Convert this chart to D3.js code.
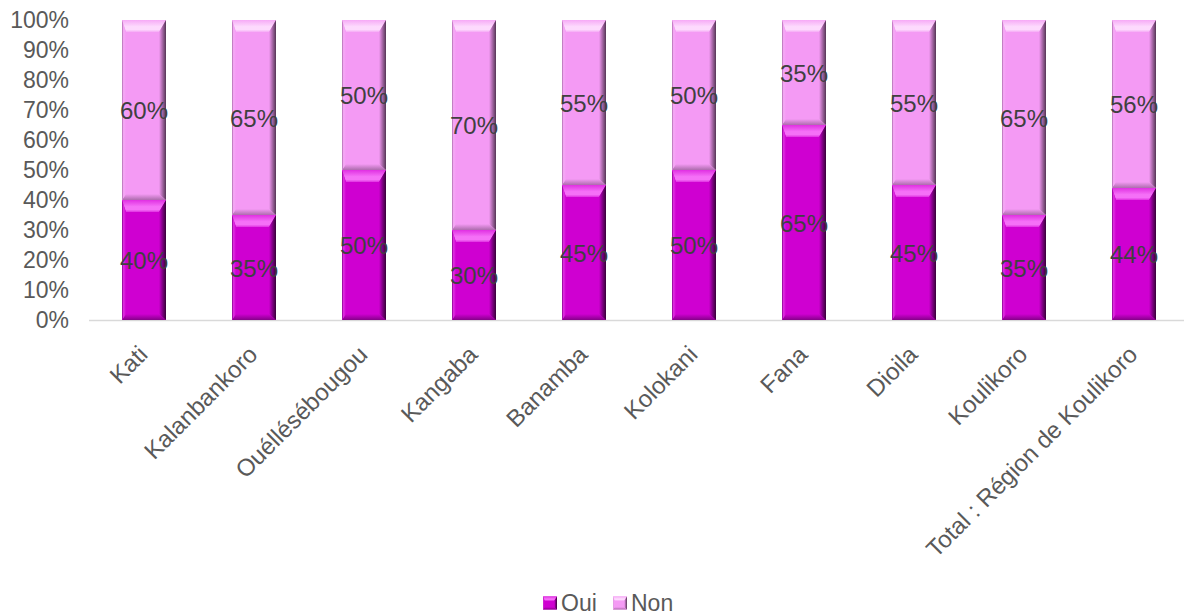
<!DOCTYPE html>
<html>
<head>
<meta charset="utf-8">
<script src="https://cdn.jsdelivr.net/npm/d3@7"></script>
<style>
  html, body { margin: 0; padding: 0; background: #ffffff; }
  svg { display: block; font-family: "Liberation Sans", Arial, sans-serif; }
</style>
</head>
<body>
<svg id="chart" width="1184" height="615"></svg>
<script>
// Share of respondents per district (percent)
const categories = ["Kati", "Kalanbankoro", "Ouéllésébougou", "Kangaba", "Banamba",
                    "Kolokani", "Fana", "Dioila", "Koulikoro", "Total : Région de Koulikoro"];
const oui = [40, 35, 50, 30, 45, 50, 65, 45, 35, 44];
const non = [60, 65, 50, 70, 55, 50, 35, 55, 65, 56];
const seriesNames = ["Oui", "Non"];
const yTicks = [0, 10, 20, 30, 40, 50, 60, 70, 80, 90, 100];

const W = 1184, H = 615;
const margin = { left: 89, right: -5, top: 20, bottom: 295 };
const svg = d3.select("#chart");

const x = d3.scaleBand()
  .domain(categories)
  .range([margin.left, W - margin.right])
  .paddingInner(0.6)
  .paddingOuter(0.3);

const y = d3.scaleLinear().domain([0, 100]).range([H - margin.bottom, margin.top]);

// Palette: base, light face, highlight, dark edge
const palettes = {
  Oui: { base: "#cf00d1", light: "#e030e2", hi: "#f570f7", dark: "#380039", mid: "#86008a" },
  Non: { base: "#f49af4", light: "#f6aaf6", hi: "#fddafd", dark: "#553555", mid: "#ad6cad" }
};

const defs = svg.append("defs");
Object.entries(palettes).forEach(([k, p]) => {
  const r = defs.append("linearGradient").attr("id", "right-" + k)
    .attr("x1", 0).attr("x2", 1).attr("y1", 0).attr("y2", 0);
  r.append("stop").attr("offset", 0).attr("stop-color", p.base);
  r.append("stop").attr("offset", 0.45).attr("stop-color", p.mid);
  r.append("stop").attr("offset", 1).attr("stop-color", p.dark);

  const t = defs.append("linearGradient").attr("id", "top-" + k)
    .attr("x1", 0).attr("x2", 0).attr("y1", 0).attr("y2", 1);
  t.append("stop").attr("offset", 0).attr("stop-color", p.light);
  t.append("stop").attr("offset", 0.55).attr("stop-color", p.hi);
  t.append("stop").attr("offset", 0.8).attr("stop-color", p.hi);
  t.append("stop").attr("offset", 1).attr("stop-color", p.light);

  const b = defs.append("linearGradient").attr("id", "bot-" + k)
    .attr("x1", 0).attr("x2", 0).attr("y1", 0).attr("y2", 1);
  b.append("stop").attr("offset", 0).attr("stop-color", p.base);
  b.append("stop").attr("offset", 1).attr("stop-color", p.mid);

  const l = defs.append("linearGradient").attr("id", "left-" + k)
    .attr("x1", 0).attr("x2", 1).attr("y1", 0).attr("y2", 0);
  l.append("stop").attr("offset", 0).attr("stop-color", p.mid);
  l.append("stop").attr("offset", 0.4).attr("stop-color", p.light);
  l.append("stop").attr("offset", 1).attr("stop-color", p.base);
});

// Y axis labels
const yAxis = svg.append("g")
  .attr("transform", `translate(${margin.left},0)`)
  .call(d3.axisLeft(y).tickValues(yTicks).tickFormat(d => d + "%").tickSize(0).tickPadding(20));
yAxis.select(".domain").remove();
yAxis.selectAll("text").attr("fill", "#595959").style("font-size", "23px")
  .style("font-family", "'Liberation Sans', Arial, sans-serif");

// Category axis baseline and rotated labels
const xAxis = svg.append("g")
  .attr("transform", `translate(0,${y(0)})`)
  .call(d3.axisBottom(x).tickSize(0).tickPadding(0));
xAxis.select(".domain").attr("stroke", "#d9d9d9").attr("stroke-width", 1.3)
  .attr("d", `M${margin.left},0.5H${W}`);
xAxis.selectAll("text")
  .attr("fill", "#595959")
  .style("font-size", "24px")
  .style("font-family", "'Liberation Sans', Arial, sans-serif")
  .attr("text-anchor", "end")
  .attr("dy", "0")
  .attr("y", 0)
  .attr("transform", "translate(5,36) rotate(-45)");

// Stacked data
const rows = categories.map((c, i) => ({ cat: c, Oui: oui[i], Non: non[i] }));
const stack = d3.stack().keys(seriesNames)(rows);

function bevelSegment(g, x0, x1, y0, y1, key, scale = 1) {
  const h = y1 - y0;
  const bt = Math.min(12 * scale, h / 3);   // top bevel depth
  const bb = Math.min(6 * scale, h / 4);    // bottom bevel depth
  const bl = 4 * scale, br = 7 * scale;
  const p = palettes[key];
  g.append("rect").attr("x", x0).attr("y", y0).attr("width", x1 - x0).attr("height", h)
    .attr("fill", p.base);
  g.append("polygon")
    .attr("points", [[x0, y0], [x1, y0], [x1 - br, y0 + bt], [x0 + bl, y0 + bt]].join(" "))
    .attr("fill", `url(#top-${key})`);
  g.append("polygon")
    .attr("points", [[x0, y1], [x1, y1], [x1 - br, y1 - bb], [x0 + bl, y1 - bb]].join(" "))
    .attr("fill", `url(#bot-${key})`);
  g.append("polygon")
    .attr("points", [[x0, y0], [x0 + bl, y0 + bt], [x0 + bl, y1 - bb], [x0, y1]].join(" "))
    .attr("fill", `url(#left-${key})`);
  g.append("polygon")
    .attr("points", [[x1, y0], [x1 - br, y0 + bt], [x1 - br, y1 - bb], [x1, y1]].join(" "))
    .attr("fill", `url(#right-${key})`);
}

const barsG = svg.append("g");
stack.forEach(layer => {
  const key = layer.key;
  layer.forEach(d => {
    const x0 = x(d.data.cat), x1 = x0 + x.bandwidth();
    const g = barsG.append("g");
    bevelSegment(g, x0, x1, y(d[1]), y(d[0]), key);
  });
});

// Value labels centred in each segment
const labelsG = svg.append("g");
stack.forEach(layer => {
  layer.forEach(d => {
    labelsG.append("text")
      .attr("x", x(d.data.cat) + x.bandwidth() / 2)
      .attr("y", (y(d[0]) + y(d[1])) / 2)
      .attr("dy", "0.38em")
      .attr("text-anchor", "middle")
      .attr("fill", "#404040")
      .style("font-size", "24px")
      .text((d[1] - d[0]) + "%");
  });
});

// Legend
const legend = svg.append("g").attr("transform", "translate(0,603)");
const legendItems = [{ key: "Oui", x: 543 }, { key: "Non", x: 613 }];
legendItems.forEach(it => {
  const g = legend.append("g").attr("transform", `translate(${it.x},0)`);
  bevelSegment(g, 0, 14, -6.5, 6.5, it.key, 0.4);
  g.append("text").attr("x", 18).attr("y", 0).attr("dy", "0.35em")
    .attr("fill", "#595959").style("font-size", "23px").text(it.key);
});
</script>
</body>
</html>
